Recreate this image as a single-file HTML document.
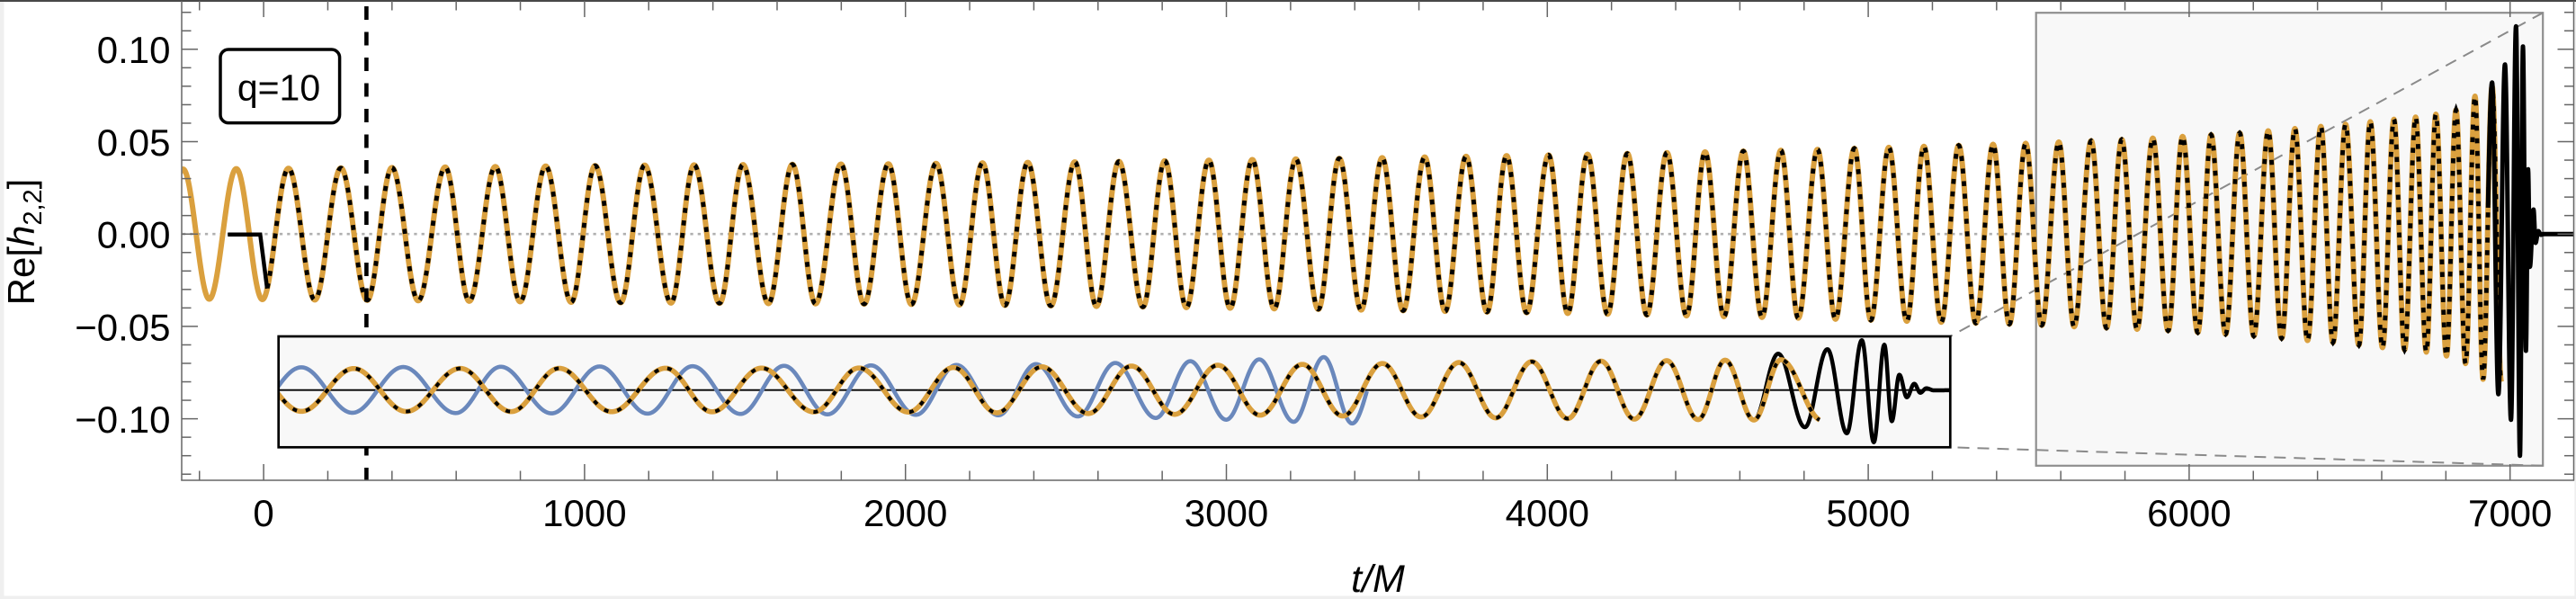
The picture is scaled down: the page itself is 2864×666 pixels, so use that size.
<!DOCTYPE html>
<html><head><meta charset="utf-8">
<style>
html,body{margin:0;padding:0;background:#fff;overflow:hidden;width:2864px;height:666px;}
svg{display:block;}
text{font-family:"Liberation Sans",Arial,sans-serif;fill:#000;}
</style></head>
<body>
<svg id="s" width="2864" height="666" viewBox="0 0 2864 666" xmlns="http://www.w3.org/2000/svg">
<defs>
<clipPath id="cm"><rect x="202.7" y="2" width="2658.3" height="531.3"/></clipPath>
<clipPath id="ci"><rect x="311" y="375.4" width="1856" height="120.6"/></clipPath>
</defs>
<rect width="2864" height="666" fill="#fff"/>
<rect x="0" y="0" width="4.5" height="666" fill="#efefef"/>
<rect x="0" y="662.5" width="2864" height="3.5" fill="#efefef"/>
<rect x="2862.3" y="0" width="1.7" height="666" fill="#efefef"/>
<rect x="0" y="0" width="2864" height="2" fill="#484848"/>

<line x1="203" y1="260.2" x2="2861" y2="260.2" stroke="#b0b0b0" stroke-width="2.6" stroke-dasharray="3.3 5"/>

<rect x="2263.7" y="14.2" width="563.5" height="503.6" fill="#f8f8f8" stroke="#8f8f8f" stroke-width="2.2"/>
<line x1="2827.2" y1="14.2" x2="2168.3" y2="374" stroke="#8a8a8a" stroke-width="2" stroke-dasharray="13 9"/>
<line x1="2827.2" y1="517.8" x2="2168.3" y2="497.3" stroke="#8a8a8a" stroke-width="2" stroke-dasharray="13 9"/>

<g id="main" clip-path="url(#cm)"></g>

<line x1="407.4" y1="1" x2="407.4" y2="534" stroke="#000" stroke-width="4.6" stroke-dasharray="15 13.5" stroke-dashoffset="22.5"/>

<g id="frame" stroke="#666" stroke-width="1.5" fill="none">
<line x1="202" y1="1" x2="202" y2="534.5"/>
<line x1="201.3" y1="534" x2="2862" y2="534"/>
<line x1="2861.5" y1="1" x2="2861.5" y2="534.5"/>
</g>

<rect x="309.7" y="374" width="1858.6" height="123.3" fill="#f8f8f8" stroke="none"/>
<line x1="310" y1="433.7" x2="2168" y2="433.7" stroke="#000" stroke-width="1.8"/>
<g id="inset" clip-path="url(#ci)"></g>
<rect x="309.7" y="374" width="1858.6" height="123.3" fill="none" stroke="#000" stroke-width="2.7"/>

<rect x="245" y="55" width="132.6" height="81.6" rx="9" ry="9" fill="#fff" stroke="#000" stroke-width="3.5"/>
<text x="310" y="111.7" font-size="41" text-anchor="middle">q=10</text>

<g font-size="42" text-anchor="end">
<text x="189.5" y="70">0.10</text>
<text x="189.5" y="172.9">0.05</text>
<text x="189.5" y="275.6">0.00</text>
<text x="189.5" y="378.3">&#8722;0.05</text>
<text x="189.5" y="481">&#8722;0.10</text>
</g>
<g font-size="42" text-anchor="middle">
<text x="293.1" y="585">0</text>
<text x="649.9" y="585">1000</text>
<text x="1006.7" y="585">2000</text>
<text x="1363.5" y="585">3000</text>
<text x="1720.3" y="585">4000</text>
<text x="2077.1" y="585">5000</text>
<text x="2433.9" y="585">6000</text>
<text x="2790.7" y="585">7000</text>
</g>
<text x="1532" y="658" font-size="43" font-style="italic" text-anchor="middle">t/M</text>
<text transform="translate(38,269) rotate(-90)" font-size="42" text-anchor="middle">Re[<tspan font-style="italic">h</tspan><tspan font-size="29" dy="8">2,2</tspan><tspan dy="-8">]</tspan></text>
</svg>
<script>
(function(){
var NS="http://www.w3.org/2000/svg";
function el(p,tag,a){var e=document.createElementNS(NS,tag);for(var k in a)e.setAttribute(k,a[k]);p.appendChild(e);return e;}
function X(t){return 293.1+0.3568*t;}
function Y(v){return 260.2-2054*v;}
function lerp(tab,x){if(x<=tab[0][0])return tab[0][1];for(var i=1;i<tab.length;i++){if(x<=tab[i][0]){var a=tab[i-1],b=tab[i];return a[1]+(b[1]-a[1])*(x-a[0])/(b[0]-a[0]);}}return tab[tab.length-1][1];}
function cosPath(ext,x0,x1,step){
  step=step||0.5;var pts=[];
  for(var i=0;i<ext.length-1;i++){
    var a=ext[i],b=ext[i+1];
    if(b[0]<x0)continue; if(a[0]>x1)break;
    var n=Math.max(2,Math.ceil((b[0]-a[0])/step));
    for(var j=0;j<=n;j++){
      var f=j/n,x=a[0]+(b[0]-a[0])*f;
      if(x<x0||x>x1)continue;
      if(pts.length&&Math.abs(pts[pts.length-1][0]-x)<1e-6)continue;
      var y=(a[1]+b[1])/2+(a[1]-b[1])/2*Math.cos(Math.PI*f);
      pts.push([x,y]);
    }
  }
  return "M"+pts.map(function(p){return p[0].toFixed(2)+","+p[1].toFixed(2);}).join("L");
}
var OR="#DAA03E", BL="#6A88BC";
var xs=[174,203.5,232.7,262.7,291.7,320.7,350,379,408.3,435.7,465,495,521.7,550.7,578.3,606.7,635,661.7,690,716.7,746,771.7,800,826,854.3,881,906.7,935,960.7,987.7,1013.3,1040.7,1066.7,1092.3,1117.3,1142.7,1168.3,1195,1219,1244,1270.7,1295,1319,1344,1367.7,1392.3,1416.7,1440.7,1465.7,1489,1513.3,1536.7,1560,1584,1606.7,1630,1653.3,1675,1697.3,1721.7,1743,1765,1787.3,1809.3,1831,1853.3,1875,1895.7,1916.7,1938.3,1959,1980,1999.3,2020.7,2040.7,2061.7,2080,2100,2120,2139,2158.3,2177.7,2196.7,2215.9,2234,2252.2,2270,2289,2306,2325,2342,2359,2376,2393.5,2410.5,2426.6,2443.5,2458.3,2474.4,2490.1,2505.8,2521.8,2536.7,2551.5,2565.5,2580.3,2593.8,2607.8,2622.6,2635.3,2648.9,2661.6,2673.4,2685.7,2697.6,2708.2,2720,2730.6,2741.2,2751.7,2760.7,2770.7,2781];
var A=[[170,0.035],[450,0.036],[700,0.0372],[1000,0.038],[1250,0.0393],[1500,0.041],[1750,0.043],[2000,0.0455],[2250,0.049],[2400,0.052],[2500,0.055],[2600,0.059],[2660,0.062],[2700,0.064],[2730,0.067],[2741,0.070],[2752,0.0747],[2761,0.0787],[2771,0.080],[2781,0.080]];
var mainExt=xs.map(function(x,i){return [x,Y((i%2?1:-1)*lerp(A,x))];});
var mg=document.getElementById("main");
el(mg,"path",{d:cosPath(mainExt,195,2781,0.5),stroke:OR,"stroke-width":6,fill:"none","stroke-linejoin":"round"});
el(mg,"path",{d:"M253.3,260.7L289.3,260.7L297,320.8",stroke:"#000","stroke-width":4.5,fill:"none"});
el(mg,"path",{d:cosPath(mainExt,297,2781,0.5),stroke:"#000","stroke-width":4.8,fill:"none","stroke-dasharray":"5.5 8.5"});
var merge=[[2760.7,Y(-0.0787)],[2770.7,91.7],[2777.7,438.3],[2785,71.7],[2791.7,466.7],[2797.3,29.3],[2801.7,506.7],[2805,51.7],[2808.3,390],[2810.7,188.3],[2812.7,296.7],[2816.7,233],[2819,270],[2822,257],[2825,261],[2828,260.2],[2880,260.2]];
el(mg,"path",{d:cosPath(merge,2766,2862,0.25),stroke:"#000","stroke-width":5,fill:"none","stroke-linejoin":"round"});

var ig=document.getElementById("inset");
var yc=433.6;
var oxs=[276.7,335,393.3,451.7,511.7,568.3,621.7,680,740,791.7,846.7,905,955,1010,1060,1108.3,1158.3,1210,1258,1306,1354,1401,1448,1493,1537,1580,1622,1663,1703,1743,1780,1817,1853,1888,1918,1950,1980,2026];
var Ai=[[270,23.7],[1000,24.5],[1250,26.5],[1500,29],[1700,31.5],[1900,33],[2030,34]];
var orExt=oxs.map(function(x,i){var a=lerp(Ai,x);return [x,i%2?yc+a:yc-a];});
var bxs=[278,335,391.7,448.3,506.7,556.7,613.3,666.7,720,770,823.3,871.7,920,968.3,1018.3,1063.3,1110,1151.7,1198.3,1240,1285,1323.3,1363.3,1400,1438.3,1471.7,1503.3,1537];
var Ab=[[270,25],[800,26.5],[1100,28],[1240,30],[1323,32],[1400,34],[1470,36.5],[1540,38]];
var blExt=bxs.map(function(x,i){var a=lerp(Ab,x);return [x,i%2?yc-a:yc+a];});
var bkExt=orExt.filter(function(p){return p[0]<=1950;}).concat([[1977,393.3],[2006.7,475],[2031.7,388.3],[2053.3,481.7],[2070,378.3],[2083.3,491.7],[2095,383.3],[2103.3,468.3],[2111.7,416.7],[2120,441.7],[2128.3,426.7],[2135,436.7],[2141.7,431.7],[2150,434],[2200,433.5]]);
el(ig,"path",{d:cosPath(blExt,305,1520,0.5),stroke:BL,"stroke-width":4.6,fill:"none"});
el(ig,"path",{d:cosPath(bkExt,305,2168,0.4),stroke:"#000","stroke-width":4.5,fill:"none","stroke-linejoin":"round"});
el(ig,"path",{d:cosPath(orExt,305,2023,0.5),stroke:OR,"stroke-width":5.6,fill:"none"});
el(ig,"path",{d:cosPath(orExt,305,2023,0.5),stroke:"#000","stroke-width":4,fill:"none","stroke-dasharray":"5 10"});

var fr=document.getElementById("frame");
for(var k=-13;k<=12;k++){var y=Y(k/100),L=(k%5===0)?18:10.5;
  el(fr,"line",{x1:202,y1:y,x2:202+L,y2:y});
  el(fr,"line",{x1:2861.5,y1:y,x2:2861.5-L,y2:y});}
for(var m=-1;m<=36;m++){var t=m*200,x=X(t),L2=(t%1000===0)?18:10.5;
  if(x<203||x>2860)continue;
  el(fr,"line",{x1:x,y1:534,x2:x,y2:534-L2});
  el(fr,"line",{x1:x,y1:1,x2:x,y2:1+L2});}
})();
</script>
</body></html>
